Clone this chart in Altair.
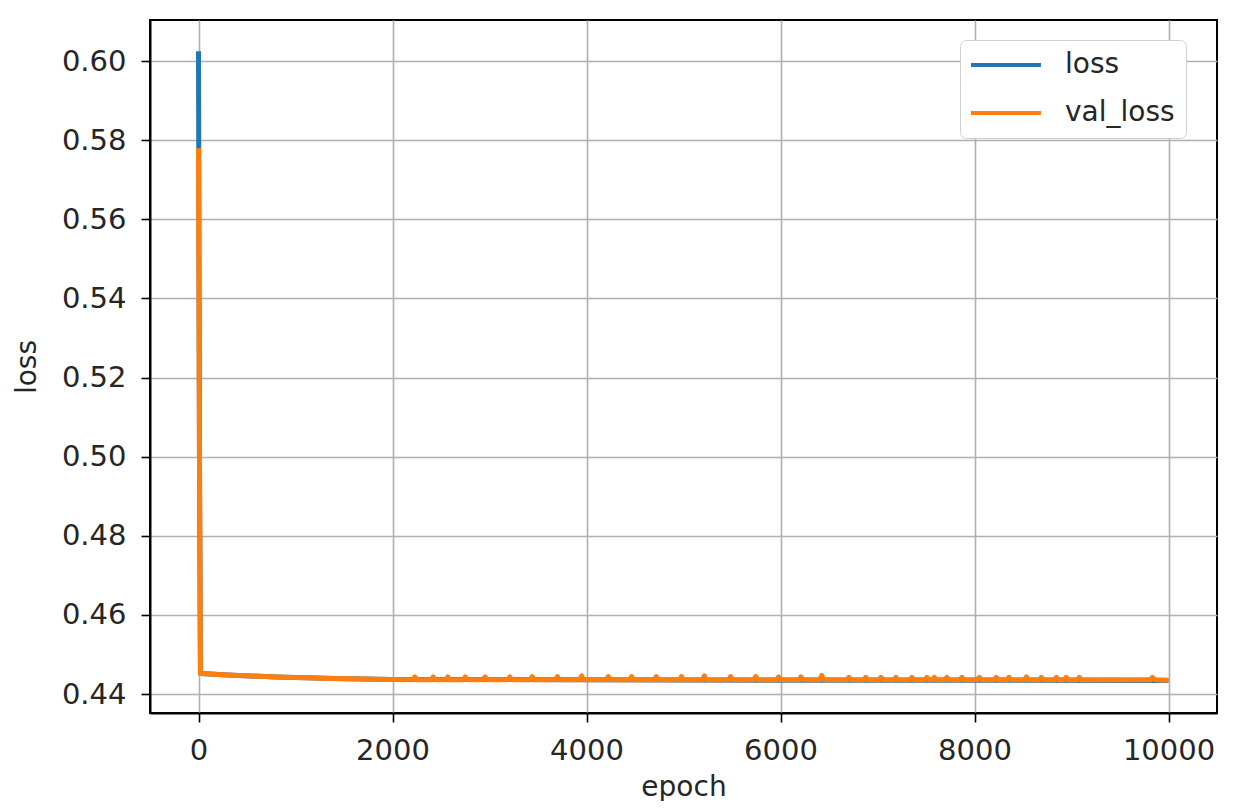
import altair as alt
import pandas as pd

# training loss (mostly hidden beneath val_loss)
loss_epochs = [0, 10, 20, 300, 800, 1400, 2000, 4000, 6000, 8000, 10000]
loss_values = [0.6025, 0.5000, 0.4452, 0.4448, 0.4443, 0.4439, 0.4437, 0.4436, 0.4435, 0.4435, 0.4434]

# validation loss baseline
val_epochs = [0, 10, 20, 300, 800, 1400, 2000, 10000]
val_values = [0.5780, 0.5000, 0.4452, 0.4448, 0.4443, 0.4439, 0.4437, 0.4435]

# small upward blips on the validation curve
spike_epochs = [2230, 2420, 2570, 2750, 2955, 3210, 3440, 3700, 3950, 4225, 4465,
                4720, 4980, 5215, 5485, 5745, 5980, 6210, 6425, 6705, 6880, 7035,
                7190, 7355, 7510, 7585, 7715, 7870, 8050, 8225, 8355, 8535, 8690,
                8845, 8945, 9080, 9835]
spike_peaks = [0.4443, 0.4443, 0.4443, 0.4443, 0.4443, 0.4443, 0.4444, 0.4444, 0.4446, 0.4444, 0.4444,
               0.4444, 0.4444, 0.4446, 0.4444, 0.4444, 0.4443, 0.4443, 0.4447, 0.4442, 0.4442, 0.4442,
               0.4442, 0.4442, 0.4442, 0.4442, 0.4442, 0.4442, 0.4442, 0.4442, 0.4442, 0.4443, 0.4442,
               0.4442, 0.4442, 0.4442, 0.4442]
spike_floor = 0.4436
spike_half_width = 20

x_ticks = [0, 2000, 4000, 6000, 8000, 10000]
y_ticks = [0.44, 0.46, 0.48, 0.50, 0.52, 0.54, 0.56, 0.58, 0.60]
series_names = ["loss", "val_loss"]
series_colors = ["#1f77b4", "#ff7f0e"]

rows = []
for e, v in zip(loss_epochs, loss_values):
    rows.append({"epoch": e, "value": v, "series": "loss"})
val_rows = [(e, v) for e, v in zip(val_epochs, val_values)]
for e, p in zip(spike_epochs, spike_peaks):
    val_rows.append((e - spike_half_width, spike_floor))
    val_rows.append((e, p))
    val_rows.append((e + spike_half_width, spike_floor))
val_rows.sort(key=lambda r: r[0])
for e, v in val_rows:
    rows.append({"epoch": e, "value": v, "series": "val_loss"})
df = pd.DataFrame(rows)

FONT = "DejaVu Sans"
TXT = "#262626"

chart = alt.Chart(df).mark_line(strokeWidth=5, strokeJoin="round", strokeCap="butt", clip=True).encode(
    x=alt.X("epoch:Q",
            scale=alt.Scale(domain=[-500, 10500], nice=False, zero=False),
            axis=alt.Axis(values=x_ticks, title="epoch", format="d")),
    y=alt.Y("value:Q",
            scale=alt.Scale(domain=[0.4352, 0.6104], nice=False, zero=False),
            axis=alt.Axis(values=y_ticks, title="loss", format=".2f")),
    color=alt.Color("series:N",
                    scale=alt.Scale(domain=series_names, range=series_colors),
                    legend=alt.Legend(title=None, orient="none", legendX=810, legendY=20,
                                      symbolType="M-1.6,0H6.4", symbolSize=306,
                                      symbolStrokeWidth=4, labelFontSize=28,
                                      labelFont=FONT, labelColor=TXT, labelOffset=66,
                                      padding=11, rowPadding=20,
                                      strokeColor="#d0d0d0", cornerRadius=6,
                                      fillColor="white")),
    order=alt.Order("epoch:Q"),
).properties(
    width=1067, height=693,
    padding={"left": 142, "top": 12, "right": 10, "bottom": 88},
    autosize=alt.AutoSizeParams(type="none"),
).configure_view(
    stroke="black", strokeWidth=2
).configure_axis(
    grid=True, gridColor="#b0b0b0", gridWidth=1.6,
    domainColor="black", domainWidth=2,
    tickColor="black", tickSize=9, tickWidth=1.6,
    labelFont=FONT, labelFontSize=29, labelColor=TXT,
    titleFont=FONT, titleFontSize=28, titleColor=TXT, titleFontWeight="normal",
).configure_axisX(
    labelPadding=14, titlePadding=8
).configure_axisY(
    labelPadding=15, titlePadding=20
)

chart.save("out.html", embed_options={"renderer": "svg", "actions": False})
